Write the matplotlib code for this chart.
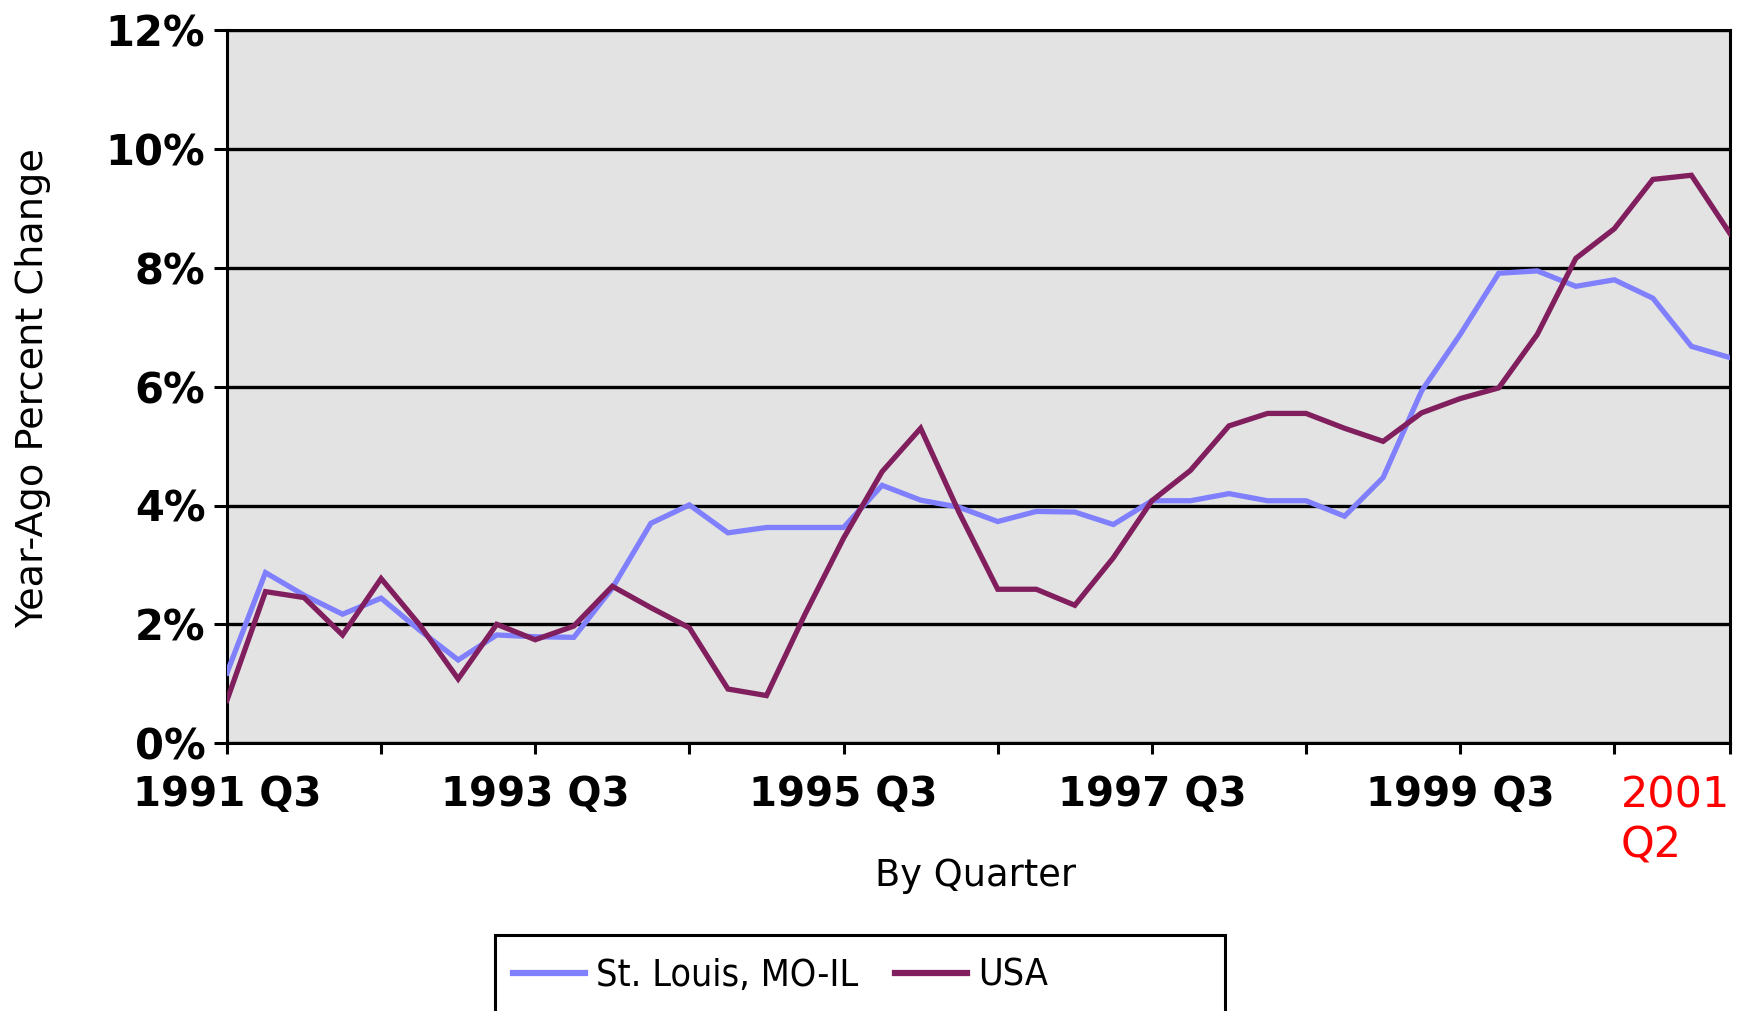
import matplotlib
matplotlib.use("Agg")
import matplotlib.pyplot as plt
from matplotlib import font_manager
from matplotlib.lines import Line2D
from matplotlib.patches import Rectangle

STL_BLUE = "#8080FF"
USA_PLUM = "#801E5E"
PANEL = "#E3E3E3"
INK = "#000000"

# quarterly series, 1991 Q3 .. 2001 Q2 (year-ago % change)
quarters = [f"{1991 + (q + 2) // 4} Q{(q + 2) % 4 + 1}" for q in range(40)]
st_louis = [1.18, 2.87, 2.49, 2.17, 2.44, 1.90, 1.40, 1.82, 1.79, 1.78,
            2.61, 3.70, 4.01, 3.54, 3.63, 3.63, 3.63, 4.34, 4.09, 3.97,
            3.73, 3.90, 3.89, 3.68, 4.08, 4.08, 4.20, 4.08, 4.08, 3.82,
            4.47, 5.93, 6.88, 7.91, 7.95, 7.69, 7.80, 7.49, 6.68, 6.49]
usa = [0.72, 2.55, 2.45, 1.82, 2.77, 1.99, 1.08, 2.00, 1.74, 1.97,
       2.64, 2.28, 1.94, 0.91, 0.80, 2.17, 3.45, 4.57, 5.30, 3.88,
       2.59, 2.59, 2.32, 3.12, 4.08, 4.59, 5.34, 5.55, 5.55, 5.30,
       5.08, 5.56, 5.80, 5.98, 6.88, 8.16, 8.66, 9.49, 9.56, 8.58]
y_ticks = [0, 2, 4, 6, 8, 10, 12]
labelled = ["1991 Q3", "1993 Q3", "1995 Q3", "1997 Q3", "1999 Q3"]
last_label = "2001\nQ2"

plt.rcParams.update({
    "font.family": "DejaVu Sans",
    "axes.linewidth": 2.2,
})


def narrow_font():
    # legend text in the original is a narrow face; use one if present
    names = {f.name for f in font_manager.fontManager.ttflist}
    if "Liberation Sans Narrow" in names:
        return {"family": "Liberation Sans Narrow", "size": 30}
    for f in font_manager.fontManager.ttflist:
        if f.name == "DejaVu Sans" and f.stretch in ("condensed", 300, 400) and "Condensed" in f.fname:
            return {"family": "DejaVu Sans", "stretch": "condensed", "size": 27}
    return {"family": "Liberation Sans", "size": 26}


fig = plt.figure(figsize=(17.39, 10.11), dpi=100)
ax = fig.add_axes([0.1305, 0.265, 0.8643, 0.705])
ax.set_facecolor(PANEL)

x = list(range(len(quarters)))
ax.plot(x, st_louis, color=STL_BLUE, linewidth=3.8, solid_joinstyle="miter", zorder=3)
ax.plot(x, usa, color=USA_PLUM, linewidth=3.8, solid_joinstyle="miter", zorder=4)

ax.set_xlim(0, len(quarters) - 1)
ax.set_ylim(0, 12)

ax.set_yticks(y_ticks)
ax.set_yticklabels([f"{v}%" for v in y_ticks], fontsize=30, fontweight="bold")
ax.yaxis.grid(True, color=INK, linewidth=2.4)
ax.set_axisbelow(False)

tick_pos = list(range(0, len(quarters) - 1, 4)) + [len(quarters) - 1]
tick_lab = [quarters[i] if quarters[i] in labelled else "" for i in tick_pos[:-1]] + [""]
ax.set_xticks(tick_pos)
ax.set_xticklabels(tick_lab, fontsize=29, fontweight="bold")
ax.tick_params(axis="x", direction="out", length=8, width=2.2, pad=15, color=INK)
ax.tick_params(axis="y", direction="out", length=9.5, width=2.2, pad=6, color=INK)
ax.xaxis.get_major_ticks()[-1].tick1line.set_color("red")

for s in ax.spines.values():
    s.set_color(INK)
    s.set_linewidth(2.2)

ax.annotate(last_label, xy=(len(quarters) - 1, 0), xycoords=("data", "axes fraction"),
            xytext=(-109, -31), textcoords="offset pixels", ha="left", va="top",
            fontsize=31, color="red", linespacing=1.25, annotation_clip=False)

fig.text(33 / 1739, 1 - 388 / 1011, "Year-Ago Percent Change", rotation=90,
         ha="center", va="center", fontsize=27.5)
fig.text(976 / 1739, 1 - 876 / 1011, "By Quarter", ha="center", va="center", fontsize=26.5)

# legend box runs off the bottom edge like the original
fig.add_artist(Rectangle((495 / 1739, -0.006), 730 / 1739, 0.081, transform=fig.transFigure,
                         fill=False, edgecolor=INK, linewidth=2.2, clip_on=False))
handles = [Line2D([], [], color=STL_BLUE, linewidth=4.5),
           Line2D([], [], color=USA_PLUM, linewidth=4.5)]
prop = narrow_font()
em = prop["size"] * 100 / 72
fig.legend(handles, ["St. Louis, MO-IL", "USA"], loc="center left",
           bbox_to_anchor=(513 / 1739, 1 - 976 / 1011), ncol=2, frameon=False,
           borderpad=0, borderaxespad=0, handlelength=72 / em, handletextpad=11 / em,
           columnspacing=37 / em, prop=prop)

fig.savefig("out.png", dpi=100)
